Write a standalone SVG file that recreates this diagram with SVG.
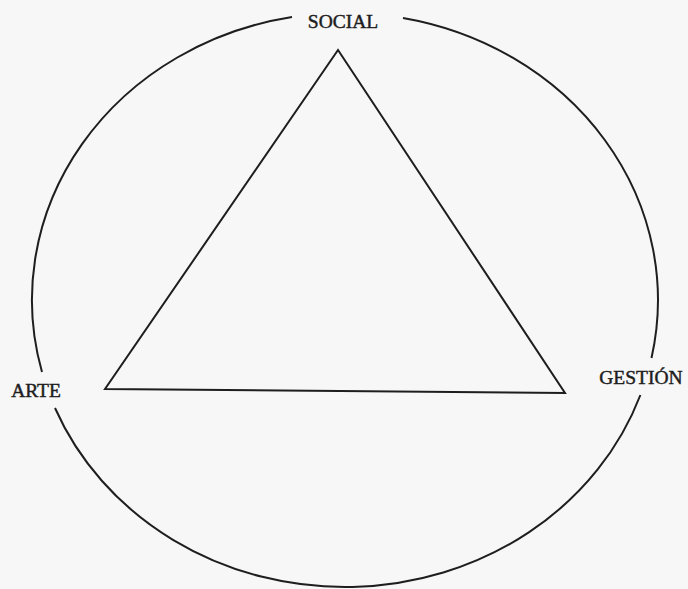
<svg xmlns="http://www.w3.org/2000/svg" width="688" height="589" viewBox="0 0 688 589">
<style>
.ln{fill:none;stroke:#1e1e1e;stroke-width:2;stroke-linejoin:miter}
.lb{font-family:"Liberation Serif","Times New Roman",serif;font-size:19.5px;fill:#1e1e1e;stroke:#1e1e1e;stroke-width:0.45;text-anchor:middle}
</style>
<rect width="688" height="589" fill="#f7f7f7"/>
<g id="connectors">
<path class="ln" d="M403,18 A313,287 0 0 1 651.5,358"/>
<path class="ln" d="M640.4,395 A313,287 0 0 1 55,408"/>
<path class="ln" d="M42,372 A313,287 0 0 1 292,17"/>
<polygon class="ln" points="338,50 565,393 105,389"/>
</g>
<g id="social"><text class="lb" x="343" y="28">SOCIAL</text></g>
<g id="arte"><text class="lb" x="36" y="397">ARTE</text></g>
<g id="gestion"><text class="lb" x="641" y="384">GESTIÓN</text></g>
</svg>
